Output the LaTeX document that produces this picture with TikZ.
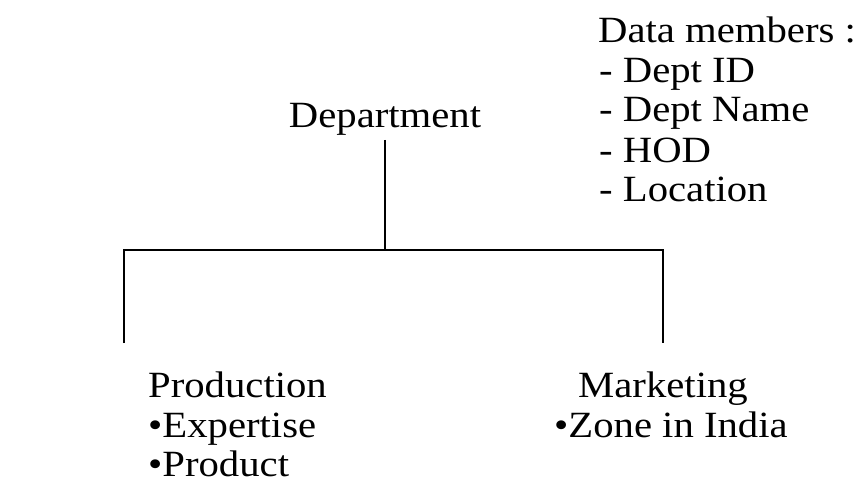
\documentclass[tikz,border=0pt]{standalone}
\usepackage{fontspec}
\setmainfont{Liberation Serif}[FakeStretch=1.1]
\begin{document}
\begin{tikzpicture}[x=1pt,y=-1pt,
  txt/.style={inner sep=0pt,anchor=base west,font=\fontsize{37}{40}\selectfont},
  ln/.style={line width=1.6pt}]
\useasboundingbox (0,0) rectangle (867,484);
\node[txt] (dm) at (598,43) {Data members :};
\node[txt] (d1) at (599,83) {- Dept ID};
\node[txt] (d2) at (599,122) {- Dept Name};
\node[txt] (d3) at (599,162) {- HOD};
\node[txt] (d4) at (599,201) {- Location};
\node[txt,anchor=base] (dept) at (385,128) {Department};
\node[txt] (prod) at (148,397) {Production};
\node[txt] (p1) at (148,437) {\textbullet Expertise};
\node[txt] (p2) at (148,476) {\textbullet Product};
\node[txt] (mkt) at (578,397) {Marketing};
\node[txt] (m1) at (554,437) {\textbullet Zone in India};
\coordinate (top) at (385,140);
\coordinate (j) at (385,250);
\coordinate (l) at (124,250);
\coordinate (r) at (663,250);
\coordinate (lb) at (124,343);
\coordinate (rb) at (663,343);
\draw[ln] (top) -- (j);
\draw[ln] (lb) -- (l) -- (r) -- (rb);
\end{tikzpicture}
\end{document}
